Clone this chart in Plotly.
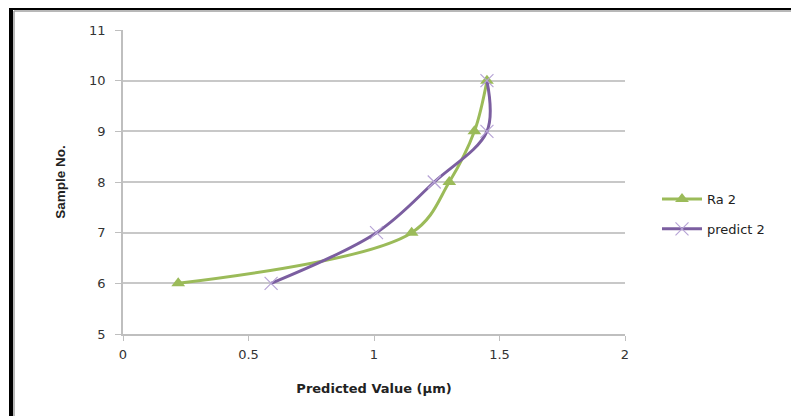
import plotly.graph_objects as go

samples = [6, 7, 8, 9, 10]
ra2 = [0.22, 1.15, 1.30, 1.40, 1.45]
predict2 = [0.59, 1.01, 1.24, 1.45, 1.45]
x_ticks = [0, 0.5, 1, 1.5, 2]
x_tick_labels = ["0", "0.5", "1", "1.5", "2"]
y_ticks = [5, 6, 7, 8, 9, 10, 11]

# figure sits at an 8px page offset, so everything is in figure pixels
W, H = 791, 408
L, R, T, B = 115, 174, 22, 82
pw, ph = W - L - R, H - T - B

def px_x(p):
    return (p - L) / pw

def px_y(p):
    return (H - B - p) / ph

fig = go.Figure()
fig.add_trace(go.Scatter(
    x=ra2, y=samples, name="Ra 2", mode="lines+markers", legendgroup="a",
    line=dict(color="#9BBB59", width=3, shape="spline", smoothing=1),
    marker=dict(symbol="triangle-up", size=12, color="#9BBB59"),
))
fig.add_trace(go.Scatter(
    x=predict2, y=samples, name="predict 2", mode="lines+markers", legendgroup="b",
    line=dict(color="#7B5EA0", width=3, shape="spline", smoothing=1),
    marker=dict(symbol="x-thin", size=13, color="#B7A4D6",
                line=dict(color="#B7A4D6", width=1.2)),
))

shapes = [
    dict(type="line", xref="paper", yref="paper", x0=px_x(3), x1=px_x(3),
         y0=px_y(-2), y1=px_y(420), line=dict(color="black", width=4)),
    dict(type="line", xref="paper", yref="paper", x0=px_x(1), x1=px_x(800),
         y0=px_y(0.5), y1=px_y(0.5), line=dict(color="black", width=3)),
    dict(type="line", xref="paper", yref="paper", x0=px_x(6), x1=px_x(6),
         y0=px_y(3), y1=px_y(420), line=dict(color="#a0a0a0", width=1.5)),
    dict(type="line", xref="paper", yref="paper", x0=px_x(6), x1=px_x(800),
         y0=px_y(3), y1=px_y(3), line=dict(color="#a0a0a0", width=1.5)),
]

fig.update_layout(
    width=W, height=H,
    margin=dict(l=L, r=R, t=T, b=B, pad=0),
    paper_bgcolor="white", plot_bgcolor="white",
    font=dict(family="DejaVu Sans", size=12, color="#333333"),
    showlegend=True,
    legend=dict(x=px_x(649), y=px_y(176), xanchor="left", yanchor="top",
                font=dict(family="DejaVu Sans", size=13, color="#222222"),
                bgcolor="rgba(0,0,0,0)", tracegroupgap=10, itemwidth=40),
    shapes=shapes,
    xaxis=dict(range=[0, 2], tickvals=x_ticks, ticktext=x_tick_labels,
               showgrid=False, zeroline=False, showline=True,
               linecolor="#BFBFBF", linewidth=1.5, ticks="outside",
               ticklen=5, tickcolor="#BFBFBF", ticklabelstandoff=3,
               tickfont=dict(family="DejaVu Sans", size=13, color="#333333"),
               title=dict(text="<b>Predicted Value (µm)</b>", standoff=23,
                          font=dict(family="DejaVu Sans", size=13, color="#222222"))),
    yaxis=dict(range=[5, 11], tickvals=y_ticks, showgrid=True,
               gridcolor="#C8C8C8", gridwidth=1.5, zeroline=False,
               showline=True, linecolor="#BFBFBF", linewidth=1.5,
               ticks="outside", ticklen=6, tickcolor="#BFBFBF",
               ticklabelstandoff=7,
               tickfont=dict(family="DejaVu Sans", size=13, color="#333333"),
               title=dict(text="<b>Sample No.</b>", standoff=20,
                          font=dict(family="Liberation Sans", size=13.5, color="#222222"))),
)

fig.write_html("out.html")
